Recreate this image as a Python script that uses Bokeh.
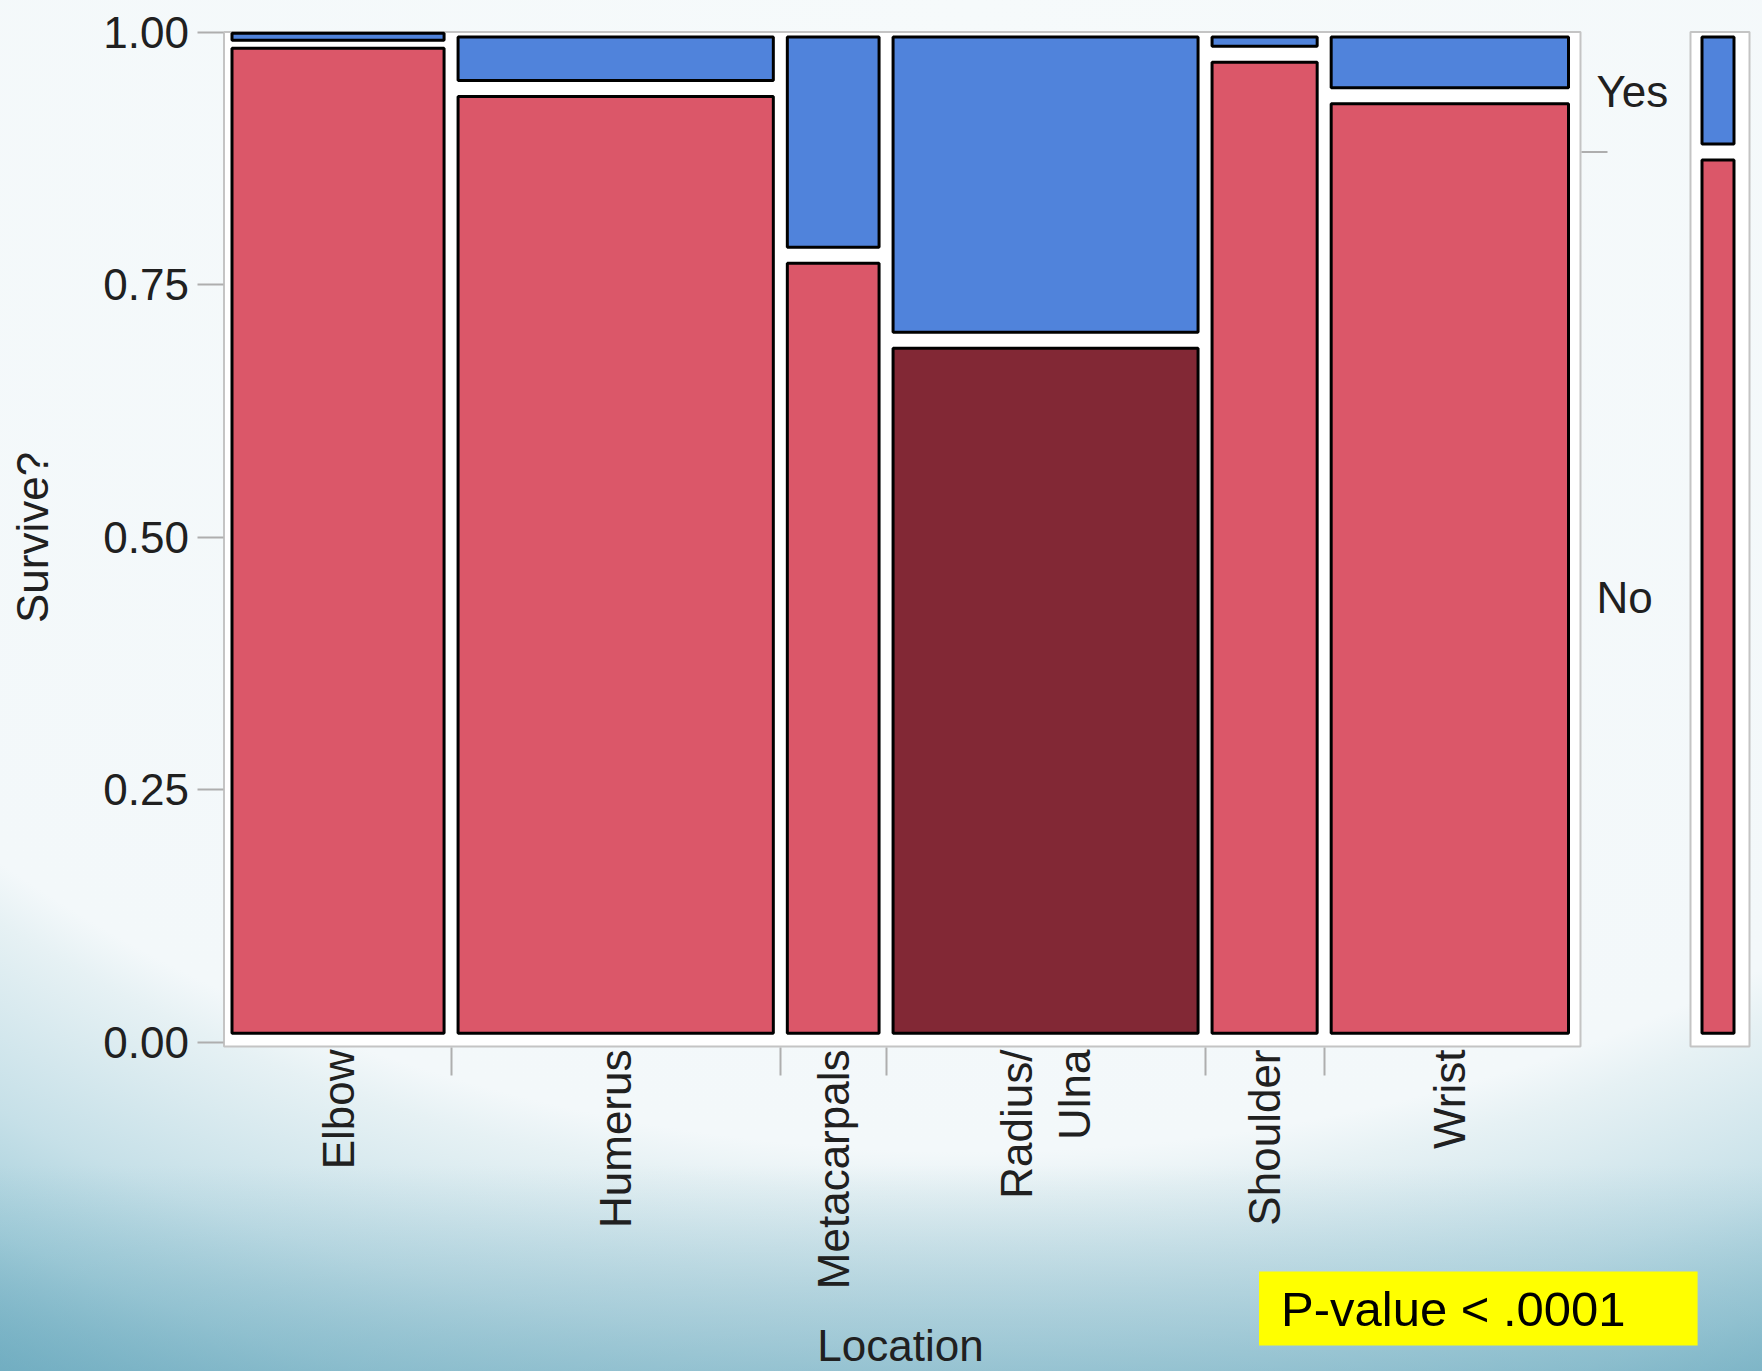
import math
from bokeh.plotting import figure
from bokeh.models import Range1d, FixedTicker, NumeralTickFormatter, Label, ColumnDataSource
from bokeh.core.properties import value
from bokeh.embed import file_html
from bokeh.resources import INLINE

# ---------------- data ----------------
locations = ["Elbow", "Humerus", "Metacarpals", "Radius/Ulna", "Shoulder", "Wrist"]
location_labels = ["Elbow", "Humerus", "Metacarpals", "Radius/\nUlna", "Shoulder", "Wrist"]
location_share = [0.1674, 0.2438, 0.0783, 0.2362, 0.0882, 0.1861]   # column widths
survive_no = [0.988, 0.944, 0.779, 0.695, 0.978, 0.937]              # share "No" per location
survive_levels = ["No", "Yes"]
y_ticks = [0.0, 0.25, 0.50, 0.75, 1.0]
highlighted = "Radius/Ulna"
x_title = "Location"
y_title = "Survive?"
p_value_text = "P-value < .0001"

# ---------------- styles ----------------
NO_COLOR = "#db5769"
YES_COLOR = "#5083db"
HIGHLIGHT_COLOR = "#822835"
FRAME_COLOR = "#c4c4c4"
TICK_COLOR = "#aeaeae"
TEXT_COLOR = "#202020"
FONT = "Liberation Sans"
FS = "44px"

# ---------------- layout (page pixels) ----------------
W, H = 1762, 1371
MOSAIC_X0, MOSAIC_X1 = 224.5, 1575.0      # pixel of share 0 and share 1
Y1_PX, Y0_PX = 31.5, 1042.0               # pixel of 1.00 and 0.00
SX = MOSAIC_X1 - MOSAIC_X0
SY = Y0_PX - Y1_PX


def X(px):
    return (px - MOSAIC_X0) / SX


def Y(py):
    return (Y0_PX - py) / SY


BW = 3.0                      # black border width
GX = (5.5 + BW / 2) / SX      # half horizontal gap between cells
GY = (6.5 + BW / 2) / SY      # half vertical gap at the split
IT = (3.5 + BW / 2) / SY      # inset at the top
IB = (7.7 + BW / 2) / SY      # inset at the bottom
MIN_H = 7.0 / SY              # smallest cell height

p = figure(width=W, height=H,
           x_range=Range1d(X(0), X(W)), y_range=Range1d(Y(H), Y(0)),
           min_border_left=0, min_border_right=0, min_border_top=0, min_border_bottom=0,
           toolbar_location=None, output_backend="svg")
p.title.visible = False
p.background_fill_color = None
p.border_fill_color = None
p.outline_line_color = None
p.xgrid.visible = False
p.ygrid.visible = False
p.styles = {
    "background-image": (
        "linear-gradient(to bottom, rgba(110,170,190,0) 85%, rgba(110,170,190,0.5) 100%), "
        "radial-gradient(ellipse 83% 84% at 55% 0%, #f6fafb 0%, #f3f8fa 100%, #e6f1f4 104%, "
        "#c6e0e8 117%, #a6cfdb 126%, #76b2c5 136%, #66a8bc 146%)"
    )
}

# ---------------- mosaic geometry from data ----------------
cum = [0.0]
for w in location_share:
    cum.append(cum[-1] + w)
centers = [round((cum[i] + cum[i + 1]) / 2, 6) for i in range(len(locations))]
boundaries = [round(c, 6) for c in cum[1:-1]]
overall_no = sum(w * v for w, v in zip(location_share, survive_no))

# white panels with grey outline (main mosaic + overall bar)
p.quad(left=[X(223.5), X(1690)], right=[X(1580), X(1749)],
       bottom=[Y(1046), Y(1046)], top=[Y(31.5), Y(31.5)],
       fill_color="white", line_color=FRAME_COLOR, line_width=2)


def cells(x0, x1, v, no_color):
    g = GY if (1 - IT) - (v + GY) >= MIN_H else GY / 2
    yes_top = max(1 - IT, v + g + MIN_H)
    return [(x0, x1, 0 + IB, v - g, no_color), (x0, x1, v + g, yes_top, YES_COLOR)]


rows = []
for i, loc in enumerate(locations):
    rows += cells(cum[i] + GX, cum[i + 1] - GX, survive_no[i],
                  HIGHLIGHT_COLOR if loc == highlighted else NO_COLOR)
rows += cells(X(1700 + BW / 2), X(1735 - BW / 2), overall_no, NO_COLOR)

src = ColumnDataSource(dict(left=[r[0] for r in rows], right=[r[1] for r in rows],
                            bottom=[r[2] for r in rows], top=[r[3] for r in rows],
                            color=[r[4] for r in rows]))
p.quad(left="left", right="right", bottom="bottom", top="top", source=src,
       fill_color="color", line_color="black", line_width=BW)

# right-hand level labels and split tick
p.segment(x0=[X(1581)], x1=[X(1607)], y0=[overall_no], y1=[overall_no],
          line_color=TICK_COLOR, line_width=2)
p.text(x=[X(1596)] * 2, y=[(1 + overall_no) / 2, overall_no / 2], text=survive_levels[::-1],
       text_font=value(FONT), text_font_size=FS, text_color=TEXT_COLOR,
       text_align="left", text_baseline="middle")

# ---------------- axes ----------------
ya = p.yaxis[0]
ya.fixed_location = X(222.5)
ya.bounds = (0, 1)
ya.ticker = FixedTicker(ticks=y_ticks)
ya.formatter = NumeralTickFormatter(format="0.00")
ya.axis_line_color = None
ya.major_tick_out = 26
ya.major_tick_in = 0
ya.minor_tick_out = 0
ya.minor_tick_in = 0
ya.major_tick_line_color = TICK_COLOR
ya.major_tick_line_width = 2
ya.major_label_standoff = 8
ya.major_label_text_font = FONT
ya.major_label_text_font_size = FS
ya.major_label_text_color = TEXT_COLOR
ya.axis_label = y_title
ya.axis_label_standoff = 44
ya.axis_label_text_font = FONT
ya.axis_label_text_font_size = FS
ya.axis_label_text_font_style = "normal"
ya.axis_label_text_color = TEXT_COLOR

xa = p.xaxis[0]
xa.fixed_location = Y(1047)
xa.bounds = (0, 1)
xa.ticker = FixedTicker(ticks=centers, minor_ticks=boundaries)
xa.major_label_overrides = {c: lab for c, lab in zip(centers, location_labels)}
xa.major_label_orientation = math.pi / 2
xa.axis_line_color = None
xa.major_tick_out = 0
xa.major_tick_in = 0
xa.minor_tick_out = 28
xa.minor_tick_in = 0
xa.minor_tick_line_color = TICK_COLOR
xa.minor_tick_line_width = 2
xa.major_label_standoff = -26
xa.major_label_text_font = FONT
xa.major_label_text_font_size = FS
xa.major_label_text_color = TEXT_COLOR
xa.axis_label = x_title
xa.axis_label_standoff = 29
xa.axis_label_text_font = FONT
xa.axis_label_text_font_size = FS
xa.axis_label_text_font_style = "normal"
xa.axis_label_text_color = TEXT_COLOR

# p-value box
p.add_layout(Label(x=X(1258.5), y=Y(1308), text=p_value_text,
                   text_align="left", text_baseline="middle",
                   text_font=FONT, text_font_size="49px", text_color="black",
                   background_fill_color="#ffff00", border_line_color=None,
                   padding=dict(left=22, right=72, top=10, bottom=10)))

open("out.html", "w").write(file_html(p, INLINE))
